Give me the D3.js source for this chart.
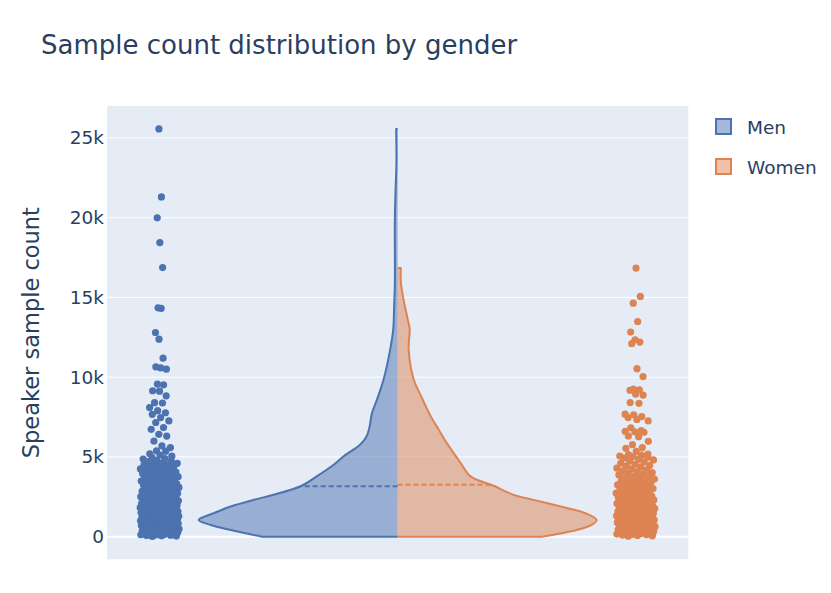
<!DOCTYPE html>
<html>
<head>
<meta charset="utf-8">
<script src="https://cdn.jsdelivr.net/npm/d3@7"></script>
<style>
  body { margin: 0; background: #fff; }
  text { font-family: "DejaVu Sans", sans-serif; fill: #2a3f5f; }
</style>
</head>
<body>
<svg id="chart" width="831" height="593"></svg>
<script>
// series + ticks
const seriesNames = ["Men", "Women"]
const seriesColors = ["#4c72b0", "#dd8452"]
const yTicks = [0, 5000, 10000, 15000, 20000, 25000]
const yTickLabels = ["0", "5k", "10k", "15k", "20k", "25k"]

// sample count per speaker
const menSamples = [
  25560, 21300, 19990, 18440, 16870, 14350, 14310, 12800, 12380, 11190, 10650, 10580, 10500,
  9570, 9520, 9150, 9120, 8830, 8400, 8380, 8100, 7900, 7770, 7670, 7470, 7260, 7160, 6840,
  6730, 6420, 6310, 6000, 5690, 5590, 5380, 5360, 5200, 5120, 5050,
  4962, 4897, 4871, 4788, 4745, 4702, 4631, 4598, 4544, 4507,
  4486, 4431, 4402, 4355, 4318, 4247, 4219, 4160, 4133, 4075, 4052, 4008,
  3981, 3955, 3893, 3871, 3824, 3786, 3760, 3702, 3688, 3641, 3617, 3563, 3538, 3509,
  3492, 3466, 3431, 3398, 3372, 3320, 3307, 3264, 3245, 3201, 3188, 3142, 3119, 3087, 3054, 3013,
  2987, 2961, 2934, 2903, 2881, 2846, 2833, 2795, 2772, 2748, 2716, 2693, 2668, 2641, 2617, 2594, 2562, 2538, 2511,
  2496, 2478, 2451, 2437, 2412, 2389, 2376, 2344, 2331, 2309, 2287, 2266, 2248, 2221, 2207, 2184, 2169, 2143, 2125, 2102, 2086, 2063, 2041, 2017,
  1997, 1972, 1968, 1941, 1915, 1908, 1880, 1874, 1851, 1822, 1819, 1790, 1763, 1755, 1741, 1712, 1690, 1688, 1660, 1642, 1635, 1611, 1590, 1583, 1570, 1552, 1541, 1530, 1518, 1503,
  1494, 1471, 1466, 1440, 1428, 1405, 1399, 1380, 1362, 1355, 1331, 1320, 1309, 1288, 1270, 1266, 1247, 1230, 1221, 1203, 1187, 1180, 1162, 1149, 1131, 1124, 1105, 1092, 1078, 1066, 1047, 1035, 1019, 1004,
  993, 978, 970, 951, 936, 931, 912, 897, 884, 870, 862, 845, 829, 824, 806, 790, 781, 766, 749, 738, 725, 707, 699, 684, 672, 655, 641, 633, 618, 601, 589, 566, 540, 512,
  488, 471, 455, 447, 420, 409, 384, 377, 352, 340, 318, 305, 287, 262, 251, 230, 219, 194, 181, 160, 147, 122, 110, 93, 71, 58, 37, 15
]
const womenSamples = [
  16840, 15060, 14640, 13490, 12830, 12340, 12200, 12100, 10530, 10040,
  9260, 9210, 9180, 8930, 8880, 8410, 8360, 7680, 7640, 7530, 7470, 7350, 7260, 6830, 6650,
  6610, 6580, 6540, 6320, 6270, 5980, 5770, 5590, 5540, 5350, 5180, 5140, 5110, 5060, 5020,
  4975, 4930, 4862, 4811, 4740, 4677, 4603, 4532,
  4471, 4418, 4356, 4302, 4255, 4190, 4127, 4069, 4015,
  3968, 3912, 3874, 3821, 3765, 3712, 3660, 3618, 3561, 3507,
  3483, 3430, 3391, 3344, 3290, 3251, 3206, 3148, 3102, 3061, 3020,
  2991, 2950, 2917, 2880, 2846, 2801, 2772, 2730, 2698, 2661, 2625, 2590, 2552, 2517,
  2493, 2466, 2430, 2405, 2371, 2346, 2312, 2290, 2255, 2231, 2198, 2170, 2146, 2111, 2087, 2052, 2024,
  1991, 1970, 1948, 1921, 1897, 1879, 1851, 1830, 1808, 1782, 1761, 1740, 1712, 1695, 1668, 1649, 1626, 1601, 1583, 1560, 1537, 1512,
  1494, 1476, 1452, 1433, 1415, 1392, 1374, 1350, 1333, 1310, 1291, 1272, 1250, 1234, 1211, 1193, 1172, 1155, 1130, 1114, 1093, 1075, 1054, 1032, 1011,
  990, 971, 950, 932, 911, 893, 870, 852, 831, 811, 792, 770, 752, 731, 711, 690, 672, 650, 631, 610, 590, 571, 548, 522,
  497, 475, 452, 431, 410, 388, 366, 344, 321, 300, 277, 256, 233, 211, 190, 167, 144, 122, 100, 78, 55, 31
]

// violin outline: relative density (1 = widest) at these sample counts
const menKdeAt = [0, 422, 737, 1050, 1470, 1890, 2310, 2625, 3193, 3780, 4515, 5038, 5775, 6297, 6927, 7770, 8608, 9868, 11757, 13017, 14500, 15800, 19900, 21500, 23500, 25560]
const menKde = [0.678, 0.835, 0.935, 0.995, 0.92, 0.835, 0.72, 0.62, 0.48, 0.405, 0.32, 0.27, 0.187, 0.155, 0.14, 0.128, 0.103, 0.07, 0.037, 0.022, 0.0175, 0.014, 0.014, 0.011, 0.006, 0.0075]
const womenKdeAt = [0, 422, 737, 1050, 1470, 1890, 2310, 2625, 3193, 3780, 4622, 5880, 6720, 7557, 8816, 9868, 11757, 13017, 13700, 14900, 16000, 16840]
const womenKde = [0.72, 0.895, 0.97, 0.995, 0.94, 0.815, 0.68, 0.58, 0.48, 0.365, 0.315, 0.245, 0.205, 0.165, 0.117, 0.08, 0.055, 0.06, 0.049, 0.029, 0.016, 0.016]

const svg = d3.select("#chart")

const plotLeft = 107, plotRight = 688.3, plotTop = 106, plotBottom = 559.3

const x = d3.scaleBand().domain(["all"]).range([plotLeft, plotRight])
const y = d3.scaleLinear().domain([-1417, 27000]).range([plotBottom, plotTop])
const w = d3.scaleLinear().domain([0, 1]).range([0, 200])  // half width of the violin
const cx = x("all") + x.bandwidth() / 2

// background
svg.append("rect")
  .attr("x", plotLeft).attr("y", plotTop)
  .attr("width", plotRight - plotLeft).attr("height", plotBottom - plotTop)
  .attr("fill", "#e5ecf6")

// grid
svg.append("g")
  .selectAll("line")
  .data(yTicks)
  .join("line")
  .attr("x1", plotLeft).attr("x2", plotRight)
  .attr("y1", d => y(d)).attr("y2", d => y(d))
  .attr("stroke", "#fff")
  .attr("stroke-width", d => d === 0 ? 2 : 1)

// y axis
const axisLeft = d3.axisLeft(y)
  .tickValues(yTicks)
  .tickFormat((d, i) => yTickLabels[i])
  .tickSize(0)
  .tickPadding(3)

const gAxis = svg.append("g")
  .attr("transform", "translate(" + plotLeft + ",0)")
  .call(axisLeft)
gAxis.select(".domain").remove()
gAxis.selectAll("text")
  .attr("font-size", "18.5px")
  .attr("font-family", "DejaVu Sans, sans-serif")
  .attr("fill", "#2a3f5f")

const series = [
  { name: seriesNames[0], color: seriesColors[0], side: -1, samples: menSamples, at: menKdeAt, kde: menKde },
  { name: seriesNames[1], color: seriesColors[1], side: 1, samples: womenSamples, at: womenKdeAt, kde: womenKde }
]

const curve = d3.line()
  .x(d => cx + d.side * w(d.k))
  .y(d => y(d.v))
  .curve(d3.curveCatmullRom.alpha(0.5))

series.forEach(s => {
  const pts = s.at.map((v, i) => ({ v: v, k: s.kde[i], side: s.side }))
  const y0 = y(s.at[0])
  const y1 = y(s.at[s.at.length - 1])
  const outline = "M" + cx + "," + y0 + "L" + curve(pts).substring(1) + "L" + cx + "," + y1

  // fill
  svg.append("path")
    .attr("d", outline + "Z")
    .attr("fill", s.color)
    .attr("fill-opacity", 0.5)

  // outline (no stroke along the middle)
  svg.append("path")
    .attr("d", outline)
    .attr("fill", "none")
    .attr("stroke", s.color)
    .attr("stroke-width", 2)
    .attr("stroke-linejoin", "round")

  // mean line
  const mean = d3.mean(s.samples)
  const kdeAtMean = d3.scaleLinear().domain(s.at).range(s.kde)
  svg.append("line")
    .attr("x1", cx).attr("x2", cx + s.side * w(kdeAtMean(mean)))
    .attr("y1", y(mean)).attr("y2", y(mean))
    .attr("stroke", s.color)
    .attr("stroke-width", 2)
    .attr("stroke-dasharray", "5,3")

  // points: jitter scaled by how crowded each point's neighbourhood is
  // (capped at 1, so the whole dense part gets the full width)
  const sorted = s.samples.slice().sort(d3.ascending)
  const iqr = d3.quantile(sorted, 0.75) - d3.quantile(sorted, 0.25)
  const dense = iqr * 0.02
  const factors = sorted.map((v, i) => {
    const i0 = Math.max(0, i - 5)
    const i1 = Math.min(sorted.length - 1, i + 5)
    return Math.min(1, Math.sqrt(dense * (i1 - i0) / (sorted[i1] - sorted[i0] + dense)))
  })
  const maxFactor = d3.max(factors)
  const jitter = d3.scaleLinear().domain([-1, 1]).range([-19.5, 19.5])
  const xPts = cx + s.side * w(1.19)

  svg.append("g")
    .selectAll("circle")
    .data(sorted)
    .join("circle")
    .attr("cx", (d, i) => {
      const r = ((i * 0.6180339887 + 0.31) % 1) * 2 - 1
      return xPts + jitter(r * factors[i] / maxFactor)
    })
    .attr("cy", d => y(d))
    .attr("r", 3.6)
    .attr("fill", s.color)
})

// title
svg.append("text")
  .attr("x", 41).attr("y", 53.5)
  .attr("font-size", "26px")
  .text("Sample count distribution by gender")

// y title
svg.append("text")
  .attr("transform", "translate(39," + (plotTop + plotBottom) / 2 + ") rotate(-90)")
  .attr("text-anchor", "middle")
  .attr("font-size", "22.5px")
  .text("Speaker sample count")

// legend
const legend = svg.append("g")
  .selectAll("g")
  .data(series)
  .join("g")
  .attr("transform", (d, i) => "translate(716," + (119 + i * 40) + ")")

legend.append("rect")
  .attr("width", 15).attr("height", 15)
  .attr("fill", d => d.color)
  .attr("fill-opacity", 0.5)
  .attr("stroke", d => d.color)
  .attr("stroke-width", 2)

legend.append("text")
  .attr("x", 31).attr("y", 14.5)
  .attr("font-size", "18.5px")
  .text(d => d.name)
</script>
</body>
</html>
